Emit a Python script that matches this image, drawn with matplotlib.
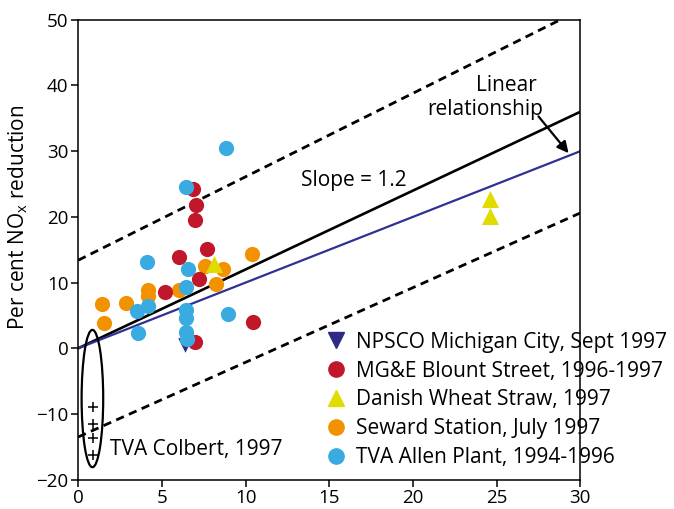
import matplotlib
matplotlib.use('Agg')
from matplotlib import pyplot as plt
from matplotlib.patches import Ellipse
from matplotlib.lines import Line2D

plt.rcParams['font.family'] = ['Open Sans', 'DejaVu Sans']

# Data
npsco_x = [6.38]
npsco_y = [0.5]

mge_x = [6.86, 7.02, 6.96, 7.71, 6.02, 7.21, 5.17, 10.42, 6.96]
mge_y = [24.3, 21.8, 19.5, 15.1, 13.9, 10.6, 8.6, 4.0, 1.0]

danish_x = [8.09, 24.6, 24.6]
danish_y = [12.9, 22.7, 20.1]

seward_x = [1.41, 1.55, 2.88, 4.17, 4.17, 6.0, 7.55, 8.64, 8.25, 10.37]
seward_y = [6.8, 3.9, 6.9, 8.9, 7.9, 8.8, 12.5, 12.1, 9.8, 14.3]

allen_x = [6.46, 4.11, 6.58, 6.42, 3.52, 4.17, 3.58, 6.42, 6.42, 6.44, 6.48, 8.98, 8.83]
allen_y = [24.5, 13.2, 12.1, 9.4, 5.75, 6.5, 2.3, 5.85, 4.6, 2.5, 1.4, 5.2, 30.5]

colbert_x = [0.9, 0.9, 0.9, 0.9]
colbert_y = [-9.0, -11.5, -13.7, -16.2]

# lines (x, y end points)
slope_x = [0, 30]
slope_y = [0, 36]
linear_x = [0, 30]
linear_y = [0, 30]
upper_x = [0, 28.8]
upper_y = [13.4, 50]
lower_x = [0, 30]
lower_y = [-13.5, 20.6]

labels = ['NPSCO Michigan City, Sept 1997', 'MG&E Blount Street, 1996-1997',
          'Danish Wheat Straw, 1997', 'Seward Station, July 1997',
          'TVA Allen Plant, 1994-1996']

c_navy = '#2e2a85'
c_red = '#c0172b'
c_yellow = '#e0dc00'
c_orange = '#f39200'
c_blue = '#3aabe0'

fs = 15

fig = plt.figure(figsize=(6.74, 5.09), dpi=100)
ax = fig.add_axes([0.116, 0.0576, 0.745, 0.9035])

ax.plot(slope_x, slope_y, color='black', lw=1.9, zorder=2)
ax.plot(linear_x, linear_y, color='#2e3192', lw=1.6, zorder=2)
ax.plot(upper_x, upper_y, color='black', lw=2, ls=(0, (3, 2)), zorder=2)
ax.plot(lower_x, lower_y, color='black', lw=2, ls=(0, (3, 2)), zorder=2)

ms = 120
ax.scatter(npsco_x, npsco_y, marker='v', s=110, color=c_navy, lw=0, zorder=3)
ax.scatter(mge_x, mge_y, marker='o', s=ms, color=c_red, lw=0, zorder=5)
ax.scatter(danish_x, danish_y, marker='^', s=150, color=c_yellow, lw=0, zorder=6)
ax.scatter(seward_x, seward_y, marker='o', s=ms, color=c_orange, lw=0, zorder=4)
ax.scatter(allen_x, allen_y, marker='o', s=ms, color=c_blue, lw=0, zorder=7)

ax.scatter(colbert_x, colbert_y, marker='+', s=60, color='black', lw=1.1, zorder=3)
ax.add_patch(Ellipse((0.85, -7.65), 1.29, 20.9, fill=False, ec='black', lw=1.6, zorder=3))
ax.text(1.9, -15.4, 'TVA Colbert, 1997', fontsize=fs, va='center', ha='left')

ax.text(13.3, 25.5, 'Slope = 1.2', fontsize=fs, va='center', ha='left')
ax.text(25.6, 40.0, 'Linear', fontsize=fs, va='center', ha='center')
ax.text(24.3, 36.3, 'relationship', fontsize=fs, va='center', ha='center')
ax.annotate('', xy=(29.3, 29.7), xytext=(27.5, 35.3),
            arrowprops=dict(arrowstyle='-|>', color='black', lw=1.6,
                            mutation_scale=17, shrinkA=0, shrinkB=0))

handles = [
    Line2D([], [], ls='none', marker='v', ms=11, color=c_navy),
    Line2D([], [], ls='none', marker='o', ms=11, color=c_red),
    Line2D([], [], ls='none', marker='^', ms=12, color=c_yellow),
    Line2D([], [], ls='none', marker='o', ms=11, color=c_orange),
    Line2D([], [], ls='none', marker='o', ms=11, color=c_blue),
]
ax.legend(handles, labels, loc='upper left', bbox_to_anchor=(0.493, 0.322),
          frameon=False, fontsize=fs, handletextpad=0.45, labelspacing=0.38,
          handlelength=1.0, borderaxespad=0, borderpad=0)

ax.set_xlim(0, 30)
ax.set_ylim(-20, 50)
ax.set_xticks([0, 5, 10, 15, 20, 25, 30])
ax.set_yticks([-20, -10, 0, 10, 20, 30, 40, 50])
ax.set_yticklabels(['\u221220', '\u221210', '0', '10', '20', '30', '40', '50'])
ax.tick_params(direction='out', length=5, width=1.1, labelsize=13.5, pad=2)
for s in ax.spines.values():
    s.set_linewidth(1.1)

fig.text(18 / 674, 1 - 217 / 509, 'Per cent NO$_\\mathregular{x}$ reduction',
         rotation=90, fontsize=fs, ha='center', va='center')

fig.savefig('out.png', dpi=100)
